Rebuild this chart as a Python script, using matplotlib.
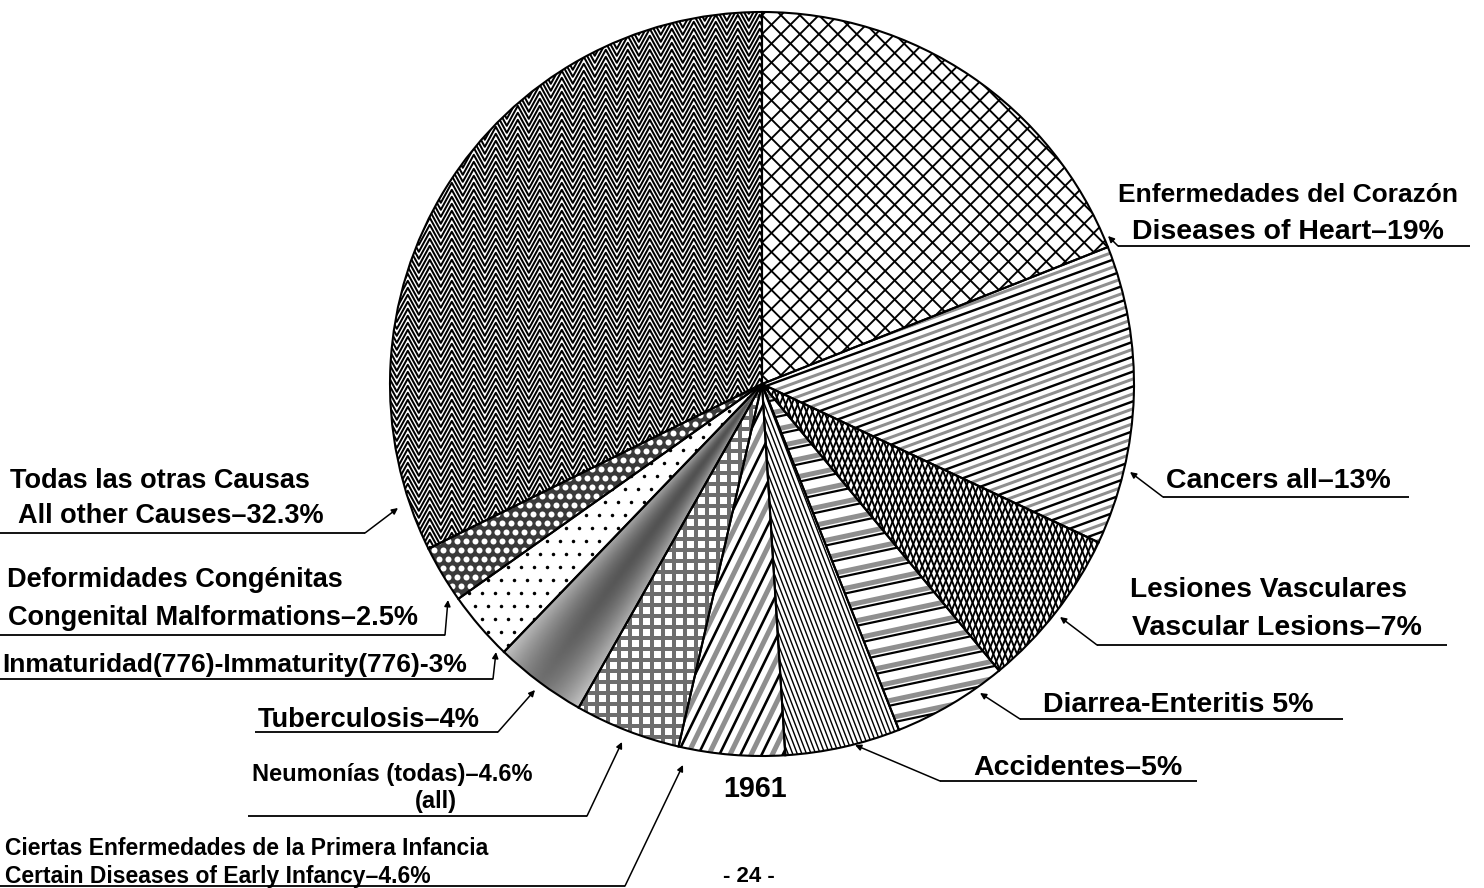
import numpy as np
import matplotlib
matplotlib.use('Agg')
import matplotlib.pyplot as plt
from matplotlib.collections import LineCollection

# causes of death 1961, clockwise from 12 o'clock
causes = ['Diseases of Heart', 'Cancers all', 'Vascular Lesions', 'Diarrea-Enteritis',
          'Accidentes', 'Certain Diseases of Early Infancy', 'Neumonias', 'Tuberculosis',
          'Immaturity', 'Congenital Malformations', 'All other Causes']
shares = [19, 13, 7, 5, 5, 4.6, 4.6, 4, 3, 2.5, 32.3]
fills = ['white', 'white', 'white', 'white', 'white', 'white', '#6e6e6e', '#858585',
         'white', '#3a3a3a', 'white']

# label text, left x, baseline y, right x, max font size  (pixels, y from top)
labels = [
    ('Enfermedades del Corazón', 1118, 202, 1459, 20),
    ('Diseases of Heart–19%', 1132, 239, 1464, 20.5),
    ('Cancers all–13%', 1166, 488, 1407, 20.5),
    ('Lesiones Vasculares', 1130, 597, 1407, 20.5),
    ('Vascular Lesions–7%', 1132, 635, 1440, 20.5),
    ('Diarrea-Enteritis 5%', 1043, 712, 1343, 20.5),
    ('Accidentes–5%', 973, 775, 1190, 20.5),
    ('1961', 723, 797, 787, 22),
    ('- 24 -', 723, 882, 788, 16),
    ('Ciertas Enfermedades de la Primera Infancia', 5, 855, 623, 16.5),
    ('Certain Diseases of Early Infancy–4.6%', 5, 883, 553, 16.5),
    ('Neumonías (todas)–4.6%', 252, 781, 575, 17),
    ('(all)', 415, 808, 477, 17),
    ('Tuberculosis–4%', 258, 727, 480, 20),
    ('Inmaturidad(776)-Immaturity(776)-3%', 2, 672, 483, 19),
    ('Deformidades Congénitas', 7, 587, 358, 19.5),
    ('Congenital Malformations–2.5%', 8, 625, 437, 19.5),
    ('Todas las otras Causas', 10, 488, 325, 19.5),
    ('All other Causes–32.3%', 18, 523, 362, 19.5),
]

# underline start/end and arrow tip for each cause
leaders = [
    ((1470, 246), (1118, 246), (1108, 236)),
    ((1409, 497), (1163, 497), (1130, 472)),
    ((1447, 645), (1097, 645), (1060, 617)),
    ((1343, 719), (1020, 719), (980, 693)),
    ((1197, 781), (940, 781), (855, 745)),
    ((0, 886), (625, 886), (683, 765)),
    ((248, 816), (587, 816), (622, 742)),
    ((255, 732), (498, 732), (535, 690)),
    ((0, 679), (493, 679), (496, 652)),
    ((0, 635), (445, 635), (448, 600)),
    ((0, 533), (365, 533), (398, 508)),
]

W, H = 1484, 888
fig = plt.figure(figsize=(W / 100, H / 100), dpi=100)
fig.patch.set_facecolor('white')

# overlay in pixel coords for the texts
ov = fig.add_axes([0, 0, 1, 1])
ov.set_xlim(0, W)
ov.set_ylim(H, 0)
ov.axis('off')

# pie sits in a 744 px square, centre (762, 384)
R = 372
ax = fig.add_axes([(762 - R) / W, (H - 384 - R) / H, 2 * R / W, 2 * R / H])
PX = 1.0 / R

wedges, _ = ax.pie(shares, startangle=90, counterclock=False, radius=1, colors=fills,
                   wedgeprops=dict(linewidth=0, zorder=1))
ax.pie(shares, startangle=90, counterclock=False, radius=1,
       wedgeprops=dict(fill=False, edgecolor='black', linewidth=1.5, zorder=5))


def hatch_lines(w, angle, step, lw, color='black', offset=0.0):
    t = np.deg2rad(angle)
    d = np.array([np.cos(t), np.sin(t)])
    n = np.array([-np.sin(t), np.cos(t)])
    segs = []
    for c in np.arange(-1.1, 1.1, step * PX) + offset * PX:
        segs.append([c * n - 1.5 * d, c * n + 1.5 * d])
    lc = LineCollection(segs, colors=color, linewidths=lw * 0.72, zorder=2)
    ax.add_collection(lc)
    lc.set_clip_path(w)


def zigzag(w, half, amp, step, lw):
    xs = np.arange(-1.1, 1.1, half * PX)
    ys = np.where(np.arange(len(xs)) % 2 == 0, 0.0, amp * PX)
    segs = [np.column_stack([xs, ys + y0]) for y0 in np.arange(-1.15, 1.1, step * PX)]
    lc = LineCollection(segs, colors='black', linewidths=lw * 0.72, zorder=2)
    ax.add_collection(lc)
    lc.set_clip_path(w)


def dots(w, step, size, color, marker='o', stagger=False):
    g = np.arange(-1.05, 1.05, step * PX)
    X, Y = np.meshgrid(g, g)
    if stagger:
        X[::2] += step * PX / 2
    sc = ax.scatter(X.ravel(), Y.ravel(), s=(size * 0.72) ** 2, c=color, marker=marker,
                    linewidths=0, zorder=2)
    sc.set_clip_path(w)


def shade(w):
    # grey airbrush: dark along the middle of the slice, lighter to the sides
    g = np.linspace(-1, 1, 400)
    X, Y = np.meshgrid(g, -g)
    ang = np.degrees(np.arctan2(Y, X)) % 360
    mid = ((w.theta1 + w.theta2) / 2) % 360
    half = abs(w.theta2 - w.theta1) / 2
    f = np.clip(np.abs(ang - mid) / half, 0, 1)
    val = 0.32 + 0.33 * f ** 1.5 + 0.12 * np.hypot(X, Y) ** 4
    im = ax.imshow(val, extent=(-1, 1, -1, 1), cmap='gray', vmin=0, vmax=1,
                   interpolation='bilinear', zorder=1.5)
    im.set_clip_path(w)


# heart - open crosshatch
hatch_lines(wedges[0], 45, 13.4, 1.9)
hatch_lines(wedges[0], -45, 13.4, 1.9)
# cancers - shallow diagonal black + grey
hatch_lines(wedges[1], 20, 14, 3, '#8f8f8f', 7)
hatch_lines(wedges[1], 20, 14, 2.4)
# vascular - dense diamonds
hatch_lines(wedges[2], 68, 5.5, 1.9)
hatch_lines(wedges[2], -68, 5.5, 1.9)
# diarrea - near horizontal bands
hatch_lines(wedges[3], 12, 17, 5, '#8f8f8f', 5)
hatch_lines(wedges[3], 12, 17, 2.2)
# accidentes - fine steep lines
hatch_lines(wedges[4], -69, 4.3, 1.4)
# certain diseases - steep diagonals
hatch_lines(wedges[5], 64, 19, 5, '#8f8f8f', 9.5)
hatch_lines(wedges[5], 64, 19, 2.6)
# neumonias - white squares on grey
dots(wedges[6], 11, 7, 'white', marker='s')
# tuberculosis - grey shading
shade(wedges[7])
# immaturity - black dots
dots(wedges[8], 13, 3.5, 'black', stagger=True)
# congenital - white circles on dark
dots(wedges[9], 9, 6, 'white', stagger=True)
# all other - zigzag
zigzag(wedges[10], 11, 20, 7, 2.0)

ax.set_xlim(-1, 1)
ax.set_ylim(-1, 1)
ax.set_aspect('equal')
ax.axis('off')

# texts, sized to the widths of the original lettering
texts = []
for s, x0, yb, x1, fmax in labels:
    t = ov.text(x0, yb, s, fontsize=18, family='Liberation Sans', weight='bold',
                ha='left', va='baseline', color='black')
    texts.append((t, x1 - x0, fmax))
r = fig.canvas.get_renderer()
for t, target, fmax in texts:
    bw = t.get_window_extent(renderer=r).width
    t.set_fontsize(min(fmax, 18 * target / bw))

for a, b, tip in leaders:
    ov.plot([a[0], b[0]], [a[1], b[1]], color='black', lw=1.3, solid_capstyle='butt')
    ov.annotate('', xy=tip, xytext=b,
                arrowprops=dict(arrowstyle='-|>', color='black', lw=1.1,
                                mutation_scale=9, shrinkA=0, shrinkB=0))

fig.savefig('out.png', dpi=100, facecolor='white')
